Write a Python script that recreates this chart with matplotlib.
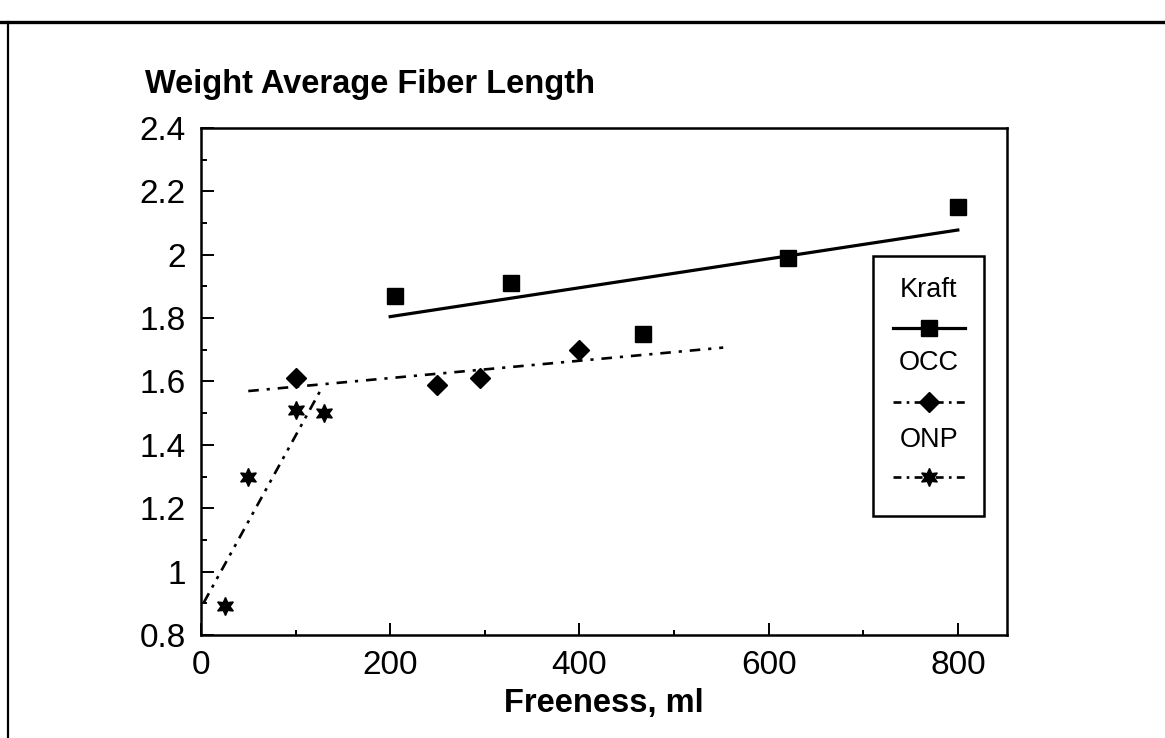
import numpy as np
import matplotlib
matplotlib.use("Agg")
import matplotlib.pyplot as plt
from matplotlib.lines import Line2D
from matplotlib.ticker import MultipleLocator, FuncFormatter

plt.rcParams["font.family"] = ["Liberation Sans", "DejaVu Sans"]

# freeness (ml) vs weight average fiber length (mm)
kraft_x = [205, 328, 467, 620, 800]
kraft_y = [1.87, 1.91, 1.75, 1.99, 2.15]
occ_x = [100, 250, 295, 400]
occ_y = [1.61, 1.59, 1.61, 1.70]
onp_x = [25, 50, 100, 130]
onp_y = [0.89, 1.30, 1.51, 1.50]

# x span of each fitted line
kraft_fit_span = [200, 800]
occ_fit_span = [50, 552]
onp_fit_span = [3, 128]

star6 = (6, 1, 0)
styles = {
    "Kraft": dict(marker="s", ms=12, lw=2.3, dashes=None),
    "OCC": dict(marker="D", ms=10.5, lw=1.9, dashes=(4, 3, 1.2, 3)),
    "ONP": dict(marker=star6, ms=13, lw=1.9, dashes=(4, 2.5, 1.2, 2.5, 1.2, 2.5)),
}

fig = plt.figure(figsize=(11.65, 7.38), dpi=100)
ax = fig.add_axes([0.1725, 0.1396, 0.6919, 0.687])

series = [("Kraft", kraft_x, kraft_y, kraft_fit_span),
          ("OCC", occ_x, occ_y, occ_fit_span),
          ("ONP", onp_x, onp_y, onp_fit_span)]

for name, xs, ys, span in series:
    st = styles[name]
    ax.plot(xs, ys, ls="none", marker=st["marker"], ms=st["ms"],
            color="black", mec="black")
    k, b = np.polyfit(xs, ys, 1)
    fx = np.array(span, dtype=float)
    line, = ax.plot(fx, k * fx + b, color="black", lw=st["lw"])
    if st["dashes"]:
        line.set_dashes(st["dashes"])

ax.set_xlim(0, 852)
ax.set_ylim(0.8, 2.4)
ax.xaxis.set_major_locator(MultipleLocator(200))
ax.xaxis.set_minor_locator(MultipleLocator(100))
ax.yaxis.set_major_locator(MultipleLocator(0.2))
ax.yaxis.set_minor_locator(MultipleLocator(0.1))
ax.yaxis.set_major_formatter(FuncFormatter(lambda v, p: f"{v:g}"))
ax.tick_params(which="both", direction="in", top=False, right=False,
               labelsize=24, width=1.4)
ax.tick_params(axis="y", which="major", length=9.5, pad=11)
ax.tick_params(axis="y", which="minor", length=4.5)
ax.tick_params(axis="x", which="major", length=9, pad=11)
ax.tick_params(axis="x", which="minor", length=3.5)
for s in ax.spines.values():
    s.set_linewidth(1.8)

ax.set_xlabel("Freeness, ml", fontsize=23.5, fontweight="bold", labelpad=5)
fig.text(145 / 1165, 1 - 84 / 738, "Weight Average Fiber Length",
         fontsize=23.5, fontweight="bold", va="center", ha="left")

# legend box with label above each handle
x0, x1, yb, yt = 0.834, 0.971, 0.235, 0.7475
ax.add_patch(plt.Rectangle((x0, yb), x1 - x0, yt - yb, transform=ax.transAxes,
                           fill=False, lw=1.8, ec="black", zorder=5))
label_y = [0.680, 0.536, 0.384]
handle_y = [0.6055, 0.4596, 0.3116]
hx = [0.8586, 0.948]
for (name, *_), ty, hy in zip(series, label_y, handle_y):
    st = styles[name]
    ax.text(0.903, ty, name, transform=ax.transAxes, fontsize=19.5,
            ha="center", va="center", zorder=6)
    ln = Line2D(hx, [hy, hy], transform=ax.transAxes, color="black",
                lw=st["lw"], zorder=6)
    if st["dashes"]:
        ln.set_dashes((3, 2, 1, 2))
    ax.add_line(ln)
    ax.add_line(Line2D([0.903], [hy], transform=ax.transAxes, ls="none",
                       marker=st["marker"], ms=st["ms"], color="black", zorder=7))

# page frame
fig.add_artist(Line2D([0, 1], [1 - 22 / 738] * 2, transform=fig.transFigure,
                      color="black", lw=2.4))
fig.add_artist(Line2D([8 / 1165] * 2, [0, 1 - 22 / 738], transform=fig.transFigure,
                      color="black", lw=1.6))

fig.savefig("out.png", dpi=100)
